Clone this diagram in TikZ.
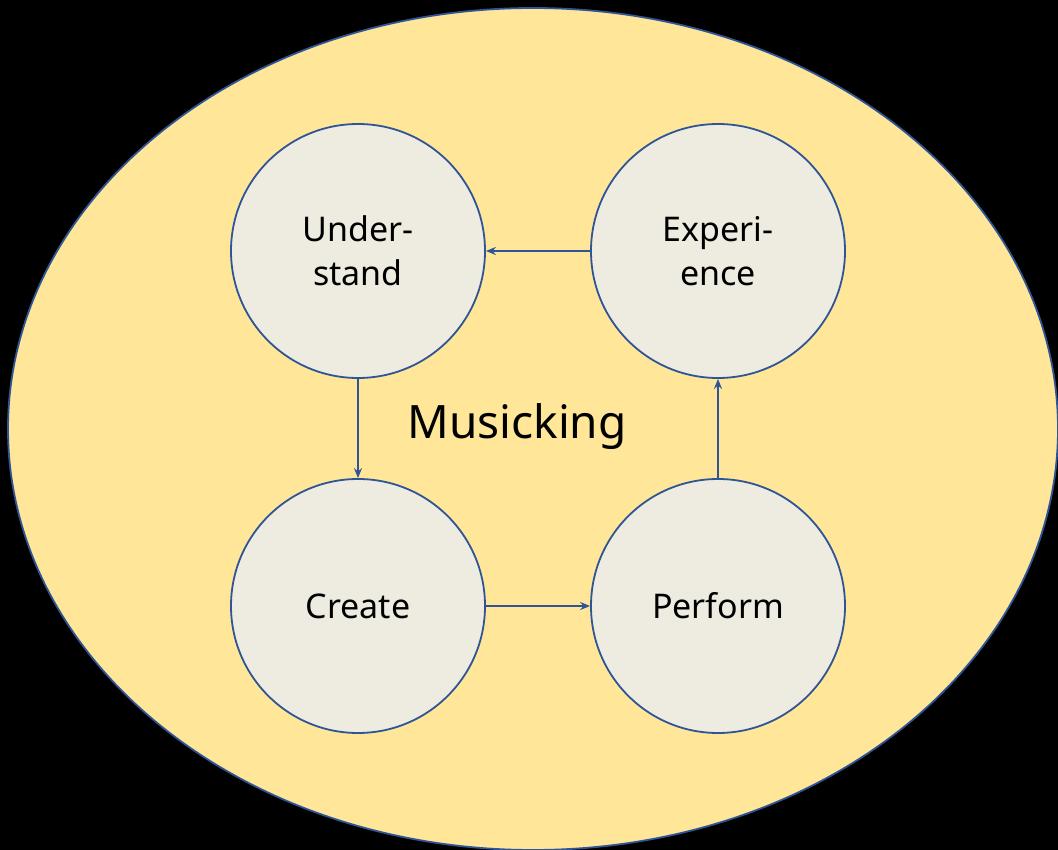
\documentclass[tikz,border=0pt]{standalone}
\usepackage{fontspec}
\setmainfont{Noto Sans}
\usetikzlibrary{arrows.meta}
\definecolor{bgyellow}{HTML}{FFE699}
\definecolor{edgeblue}{HTML}{2F5597}
\definecolor{circfill}{HTML}{EEEBE0}
\tikzset{
  stage/.style={circle, draw=edgeblue, line width=1.8pt, fill=circfill, minimum size=254pt, inner sep=0pt, align=center, font=\fontsize{34}{44}\selectfont, text=black},
  flow/.style={draw=edgeblue, line width=1.6pt, -{Stealth[length=10pt,width=8pt]}}
}
\begin{document}
\begin{tikzpicture}[x=1pt,y=-1pt]
\fill[black] (0,0) rectangle (1058,850);
\useasboundingbox (0,0) rectangle (1058,850);
\begin{scope}
\clip (0,0) rectangle (1058,850);
\draw[edgeblue, line width=1.8pt, fill=bgyellow] (533,429) ellipse [x radius=525, y radius=421];
\end{scope}
\node[stage] (und) at (358,251) {Under-\\stand};
\node[stage] (exp) at (718,251) {Experi-\\ence};
\node[stage] (cre) at (358,606) {Create};
\node[stage] (per) at (718,606) {Perform};
\node[font=\fontsize{46}{50}\selectfont, text=black] (mus) at (517,427) {Musicking};
\draw[flow] (und) -- (cre);
\draw[flow] (cre) -- (per);
\draw[flow] (per) -- (exp);
\draw[flow] (exp) -- (und);
\end{tikzpicture}
\end{document}
